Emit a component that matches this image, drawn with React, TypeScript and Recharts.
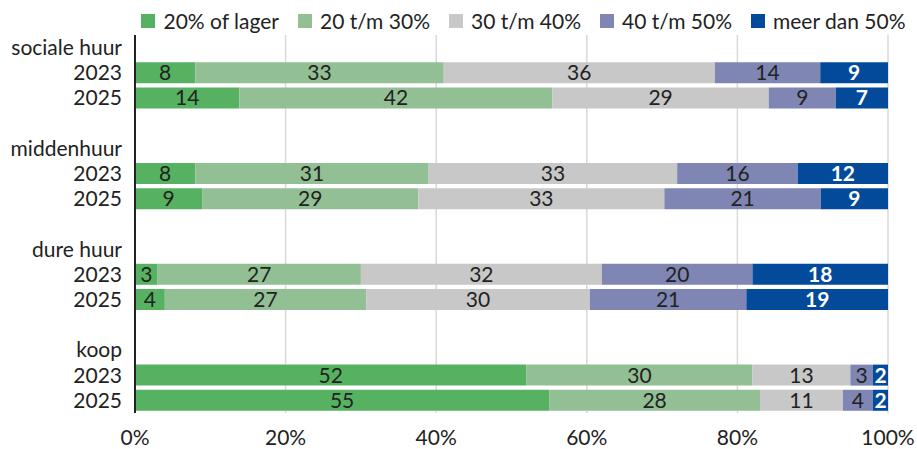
import { BarChart, Bar, XAxis, YAxis, CartesianGrid, Legend, LabelList } from 'recharts';

const SERIES = ['20% of lager', '20 t/m 30%', '30 t/m 40%', '40 t/m 50%', 'meer dan 50%'];
const COLORS = ['#56b260', '#92c094', '#c8c8c8', '#7f86b3', '#034a9b'];

const ROW_LABELS = [
  'sociale huur', '2023', '2025', '',
  'middenhuur', '2023', '2025', '',
  'dure huur', '2023', '2025', '',
  'koop', '2023', '2025',
];

const lager = [null, 8, 14, null, null, 8, 9, null, null, 3, 4, null, null, 52, 55];
const t20_30 = [null, 33, 42, null, null, 31, 29, null, null, 27, 27, null, null, 30, 28];
const t30_40 = [null, 36, 29, null, null, 33, 33, null, null, 32, 30, null, null, 13, 11];
const t40_50 = [null, 14, 9, null, null, 16, 21, null, null, 20, 21, null, null, 3, 4];
const meer50 = [null, 9, 7, null, null, 12, 9, null, null, 18, 19, null, null, 2, 2];

const SERIES_VALUES = [lager, t20_30, t30_40, t40_50, meer50];

const data = ROW_LABELS.map((label, i) => {
  const row: Record<string, any> = { id: i, label };
  SERIES.forEach((s, k) => {
    row[s] = SERIES_VALUES[k][i];
  });
  return row;
});

const FONT = 'Lato, "DejaVu Sans", sans-serif';
const FS = 21;

const LegendContent = () => (
  <div style={{ display: 'flex', justifyContent: 'center', gap: 19, fontFamily: FONT, fontSize: FS, color: '#222', paddingLeft: 130 }}>
    {SERIES.map((s, i) => (
      <div key={s} style={{ display: 'flex', alignItems: 'center' }}>
        <span style={{ display: 'inline-block', width: 14, height: 14, background: COLORS[i], marginRight: 8 }} />
        <span>{s}</span>
      </div>
    ))}
  </div>
);

const App = () => {
  return (
    <div style={{ position: 'absolute', left: 0, top: 0, width: 917, height: 449, background: '#fff' }}>
      <BarChart
        width={917}
        height={449}
        data={data}
        layout="vertical"
        stackOffset="expand"
        margin={{ top: 5, right: 29, bottom: 0, left: 0 }}
      >
        <Legend verticalAlign="top" height={30} content={<LegendContent />} wrapperStyle={{ top: 8, left: 0, width: 917 }} />
        <CartesianGrid horizontal={false} stroke="#d9d9d9" strokeWidth={1.5} />
        <XAxis
          type="number"
          domain={[0, 1]}
          ticks={[0, 0.2, 0.4, 0.6, 0.8, 1]}
          tickFormatter={(v: number) => `${Math.round(v * 100)}%`}
          axisLine={false}
          tickLine={false}
          tickMargin={11}
          height={36}
          tick={{ fill: '#222', fontSize: FS, fontFamily: FONT }}
        />
        <YAxis
          type="category"
          dataKey="id"
          width={135}
          tickFormatter={(v: number) => ROW_LABELS[v]}
          axisLine={{ stroke: '#222', strokeWidth: 2 }}
          tickLine={false}
          tickMargin={7}
          interval={0}
          tick={{ fill: '#222', fontSize: FS, fontFamily: FONT }}
        />
        {SERIES.map((s, i) => (
          <Bar key={s} dataKey={s} stackId="a" fill={COLORS[i]} barSize={21} isAnimationActive={false}>
            <LabelList
              dataKey={s}
              position="center"
              formatter={(v: any) => (v == null ? '' : v)}
              fill={i === 4 ? '#fff' : '#222'}
              fontWeight={i === 4 ? 700 : 400}
              fontSize={FS}
              fontFamily={FONT}
            />
          </Bar>
        ))}
      </BarChart>
    </div>
  );
};

export default App;
